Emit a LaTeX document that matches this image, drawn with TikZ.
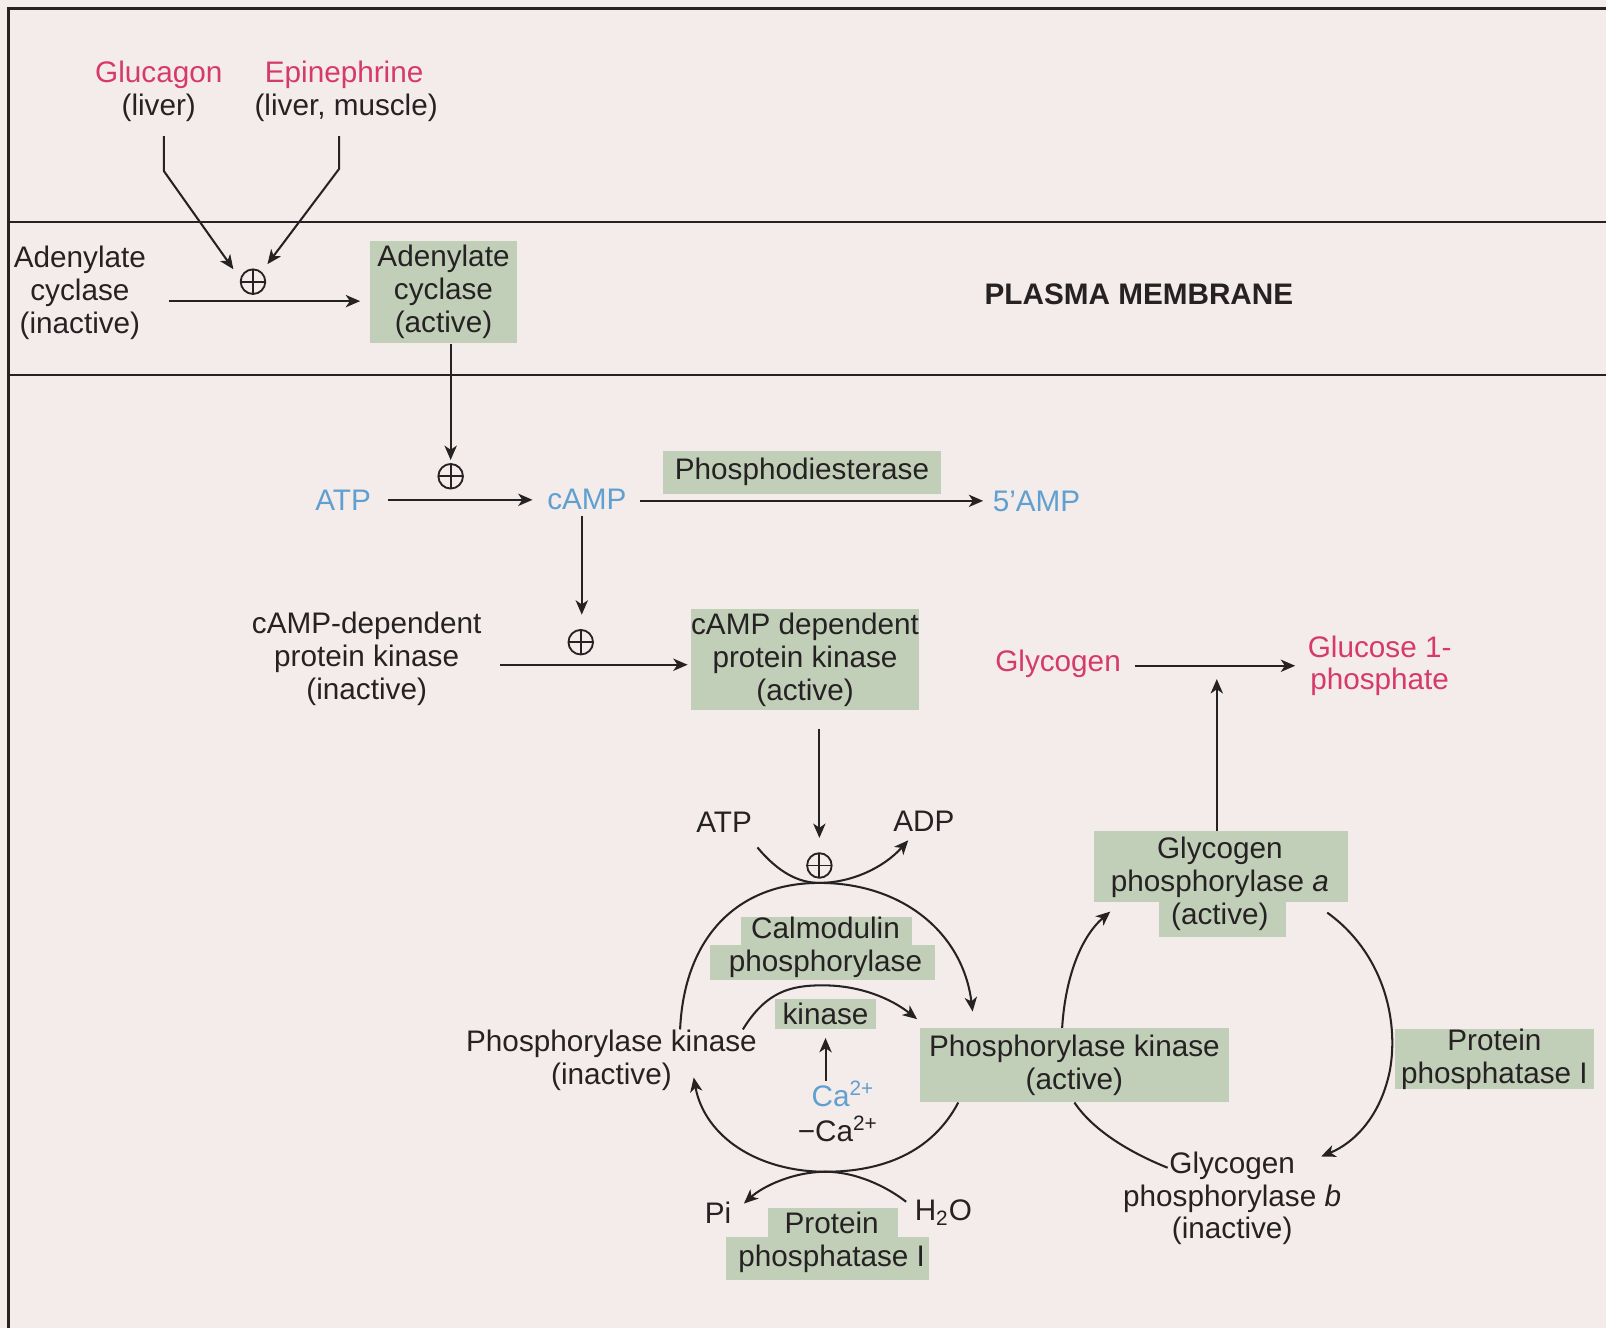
\documentclass[tikz,border=0pt]{standalone}
\usepackage{fontspec}
\setmainfont{Liberation Sans}
\usetikzlibrary{arrows.meta,calc}
\definecolor{bg}{RGB}{243,236,234}
\definecolor{ink}{RGB}{38,34,36}
\definecolor{boxg}{RGB}{194,207,184}
\definecolor{hpink}{RGB}{214,58,108}
\definecolor{hblue}{RGB}{96,160,208}
\begin{document}
\begin{tikzpicture}[x=0.5pt,y=-0.5pt,
  every node/.style={font=\fontsize{14.5}{16}\selectfont, text=ink, inner sep=0pt, align=center},
  gbox/.style={fill=boxg},
  arr/.style={draw=ink, line width=1pt, -{Stealth[length=7pt,width=6pt,inset=2pt]}},
  ln/.style={draw=ink, line width=1pt},
  memb/.style={draw=ink, line width=1.1pt},
  plus/.style={circle, draw=ink, line width=0.9pt, minimum size=12pt,
    path picture={\draw[ink,line width=0.9pt] (path picture bounding box.north) -- (path picture bounding box.south) (path picture bounding box.west) -- (path picture bounding box.east);}},
  pinktxt/.style={text=hpink},
  bluetxt/.style={text=hblue}
]
\useasboundingbox (0,0) rectangle (1568,1297);
\fill[bg] (0,0) rectangle (1568,1297);
% frame and membrane
\draw[ink, line width=1.4pt] (8,1297) -- (8,8) -- (1568,8);
\draw[memb] (8,217) -- (1568,217);
\draw[memb] (8,366) -- (1568,366);

% irregular green boxes
\fill[boxg] (1068,811) rectangle (1316,881);
\fill[boxg] (1132,879) rectangle (1256,915);
\fill[boxg] (750,1179) rectangle (877,1210);
\fill[boxg] (709,1208) rectangle (907,1250);
\fill[boxg] (723,895) rectangle (890,925);
\fill[boxg] (693,923) rectangle (913,957);

% hormones
\node[pinktxt] (glu) at (155,73) {Glucagon};
\node (liv) at (155,105) {(liver)};
\node[pinktxt] (epi) at (336,73) {Epinephrine};
\node (livm) at (338,105) {(liver, muscle)};
\node[plus] (p1) at (247,275) {};

\node (aci) at (78,286) {Adenylate\\cyclase\\(inactive)};
\node[gbox, minimum width=72pt, minimum height=50pt] (aca) at (433,285) {Adenylate\\cyclase\\(active)};
\node[font=\fontsize{14.5}{16}\selectfont\bfseries] (pm) at (1112,287) {PLASMA MEMBRANE};

\coordinate (gbend) at (160,167);
\coordinate (ebend) at (331,165);
\draw[arr] ($(liv.south)+(5,14)$) -- (gbend) -- ($(p1.north west)+(-10,-3)$);
\draw[arr] ($(livm.south)+(-7,14)$) -- (ebend) -- ($(p1.north east)+(5,-8)$);
\path ($(aca.west)+(0,9)$) coordinate (h1e);
\draw[arr] ($(h1e -| aci.east)+(22,0)$) -- ($(h1e)+(-9,0)$);

% cAMP
\node[plus] (p2) at (440,465) {};
\draw[arr] (p2.north |- aca.south) -- ($(p2.north)+(0,-3)$);
\node[bluetxt] (atp1) at (335,488) {ATP};
\node[bluetxt] (camp) at (573,488) {cAMP};
\node[bluetxt] (amp5) at (1012,490) {5’AMP};
\node[gbox, minimum width=136pt, minimum height=21pt] (pde) at (783,461) {Phosphodiesterase};
\draw[arr] ($(atp1.east)+(16,0)$) -- ($(camp.west)+(-14,0)$);
\path ($(camp.east)+(13,1)$) coordinate (h2s);
\draw[arr] (h2s) -- ($(h2s -| amp5.west)+(-9,0)$);

% protein kinase A
\node[plus] (p3) at (567,627) {};
\draw[arr] ($(camp.south)+(-5,5)$) -- ($(p3.north)+(1,-14)$);
\node (pki) at (358,643) {cAMP-dependent\\protein kinase\\(inactive)};
\node[gbox, minimum width=109pt, minimum height=49pt] (pka) at (786,644) {cAMP dependent\\protein kinase\\(active)};
\path ($(pka.west)+(-3,5)$) coordinate (h3e);
\draw[arr] ($(h3e -| pki.east)+(18,0)$) -- (h3e);

% glycogen
\node[pinktxt] (glyc) at (1033,648) {Glycogen};
\node[pinktxt] (g1p) at (1347,650) {Glucose 1-\\phosphate};
\draw[arr] ($(glyc.east)+(13,2)$) -- ($(g1p.west)+(-12,0)$);
\coordinate (gmid) at (1188,650);

% calmodulin cycle
\node (atp2) at (707,803) {ATP};
\node (adp) at (902,802) {ADP};
\node[plus] (p4) at (800,845) {};
\draw[arr] ($(pka.south)+(14,18)$) -- ($(p4.north)+(0,-14)$);
\node (cmb) at (806,925) {Calmodulin\\phosphorylase};
\node[gbox, minimum width=49pt, minimum height=15pt] (kin) at (806,990) {kinase};
\node[bluetxt] (ca1) at (823,1068) {Ca\textsuperscript{2+}};
\node (ca2) at (818,1102) {−Ca\textsuperscript{2+}};
\node (phki) at (597,1035) {Phosphorylase kinase\\(inactive)};
\node[gbox, minimum width=151pt, minimum height=36pt] (phka) at (1049,1040) {Phosphorylase kinase\\(active)};

\coordinate (top4) at (800,862);
\draw[arr] ($(atp2.south east)+(5,14)$) .. controls (760,852) and (780,862) .. (top4) .. controls (830,862) and (862,848) .. ($(adp.south west)+(15,8)$);
\draw[arr] ($(phki.north)+(67,0)$) .. controls (668,915) and (720,862) .. (top4) .. controls (880,862) and (940,910) .. ($(phka.north west)+(52,-16)$);
\draw[arr] ($(phki.north east)+(-14,0)$) .. controls (748,968) and (772,962) .. (803,962) .. controls (840,962) and (870,975) .. ($(kin.east)+(40,5)$);
\draw[arr] (kin.south |- ca1.north) -- ($(kin.south)+(0,8)$);

% protein phosphatase (bottom)
\node (pi) at (701,1184) {Pi};
\node (h2o) at (921,1184) {H\textsubscript{2}O};
\node (pp1b) at (812,1213) {Protein\\phosphatase I};
\coordinate (bot4) at (806,1144);
\draw[arr] ($(phka.south west)+(38,0)$) .. controls (910,1125) and (862,1144) .. (bot4) .. controls (740,1144) and (688,1110) .. ($(phki.east)+(-62,17)$);
\draw[arr] ($(h2o.north west)+(-8,2)$) .. controls (865,1158) and (835,1144) .. (bot4) .. controls (775,1144) and (745,1158) .. ($(pi.north east)+(12,2)$);

% glycogen phosphorylase cycle
\node (gpa) at (1191,863) {Glycogen\\phosphorylase \textit{a}\\(active)};
\node (gpb) at (1203,1170) {Glycogen\\phosphorylase \textit{b}\\(inactive)};
\node[gbox, minimum width=97pt, minimum height=28pt] (pp1r) at (1459,1034) {Protein\\phosphatase I};
\draw[arr] ($(gpa.north)+(-3,-6)$) -- ($(gmid)+(0,13)$);
\draw[arr] ($(phka.north)+(-12,0)$) .. controls (1040,955) and (1055,915) .. (1084,890);
\draw[arr] ($(gpa.east)+(-2,28)$) .. controls (1350,930) and (1366,995) .. (1357,1045) .. controls (1348,1090) and (1322,1116) .. ($(gpb.north east)+(-20,5)$);
\draw[ln] ($(gpb.north)+(-63,16)$) .. controls (1100,1124) and (1066,1102) .. (phka.south);
\end{tikzpicture}
\end{document}
